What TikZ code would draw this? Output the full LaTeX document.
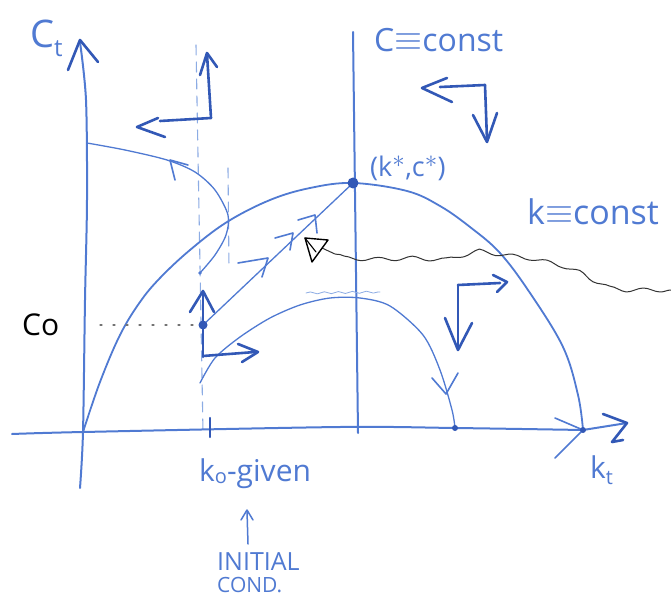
\documentclass[tikz,border=0pt]{standalone}
\usepackage{fontspec}
\setmainfont{Open Sans}
\usetikzlibrary{decorations.pathmorphing}
\definecolor{pen}{RGB}{80,122,210}
\definecolor{pendark}{RGB}{50,88,182}
\definecolor{penlight}{RGB}{140,172,228}
\newcommand{\eqv}{\raisebox{1pt}{\scalebox{1.45}{$\equiv$}}}
\begin{document}
\begin{tikzpicture}[x=1pt,y=-1pt,
  line cap=round, line join=round,
  ax/.style={pen, line width=2pt},
  curve/.style={pen, line width=1.8pt},
  traj/.style={pen, line width=1.3pt},
  phase/.style={pendark, line width=2.6pt},
  head/.style={pen, line width=1.6pt},
  dashv/.style={penlight, line width=1.1pt, dash pattern=on 10pt off 7pt},
  lbl/.style={pen, inner sep=0pt},
]
\useasboundingbox (0,0) rectangle (671,601);
\fill[white] (0,0) rectangle (671,601);

% key points
\coordinate (O) at (83,432);
\coordinate (SS) at (353,183);
\coordinate (C0) at (203,325);
\coordinate (KR) at (583,430);
\coordinate (KM) at (455,428);

% dashed verticals at k0
\draw[dashv] (196,45) -- (203,432);
\draw[dashv] (228,168) -- (229,268);

% y axis
\draw[ax] plot[smooth] coordinates {(80,42) (86,100) (87,200) (85,300) (O) (80,488)};
\draw[phase] (68,70) -- (80,40) -- (98,62);

% x axis
\draw[ax] plot[smooth] coordinates {(12,434) (O) (340,427) (KM) (KR)} -- (627,423);
\draw[phase] (603,414) -- (627,423) -- (612,442) -- (623,440);
\draw[head] (555,418) -- (KR) -- (555,458);

% c = const vertical
\draw[ax] (353,32) -- (358,433);

% k = const hump
\draw[curve] plot[smooth, tension=0.6] coordinates {(O) (100,382) (120,335) (140,302) (160,278) (190,250) (227,222) (270,200) (310,188) (SS) (407,191) (440,206) (470,227) (500,253) (530,293) (563,347) (578,395) (KR)};

% saddle path
\draw[traj] (C0) -- (SS);
\draw[head] (238,263) -- (268,258) -- (262,277);
\draw[head] (275,238) -- (293,233) -- (290,250);
\draw[head] (298,220) -- (315,215) -- (317,233);

% upper divergent trajectory
\draw[traj] plot[smooth] coordinates {(200,273) (215,255) (226,235) (228,215) (215,190) (195,172) (167,160) (125,150) (87,143)};
\fill[pen] (200,273) circle (1.8pt);
\draw[head] (188,165) -- (170,160) -- (175,180);

% lower divergent trajectory
\draw[traj] plot[smooth] coordinates {(200,383) (215,358) (240,337) (270,318) (300,305) (330,298) (360,298) (390,306) (423,335) (440,370) (452,410) (KM)};
\draw[head] (432,378) -- (446,394) -- (458,373);
\draw[penlight, line width=0.8pt, decorate, decoration={snake, amplitude=1pt, segment length=14pt}] (306,293) -- (380,292);

% dots
\fill[pendark] (SS) circle (5.5pt);
\fill[pendark] (C0) circle (4.5pt);
\fill[pendark] (KM) circle (3pt);
\fill[pendark] (KR) circle (3pt);

% k0 tick and c0 dotted guide
\draw[pendark, line width=2.2pt] (210,418) -- (210,437);
\draw[black!55, line width=1.2pt, dash pattern=on 2pt off 11pt] (100,325) -- (195,325);

% phase arrows at c0
\draw[phase] (203,357) -- (203,292);
\draw[phase] (190,312) -- (203,291) -- (214,312);
\draw[phase] (203,356) -- (255,352);
\draw[phase] (238,344) -- (258,352) -- (242,362);

% upper-left phase arrows
\draw[phase] (211,118) -- (207,54);
\draw[phase] (200,75) -- (207,53) -- (217,67);
\draw[phase] (211,118) -- (160,121);
\draw[phase] (158,118) -- (137,127) -- (165,137);

% upper-right phase arrows
\draw[phase] (485,85) -- (440,87);
\draw[phase] (447,78) -- (422,88) -- (452,102);
\draw[phase] (485,85) -- (487,140);
\draw[phase] (473,115) -- (487,142) -- (497,113);

% lower-right phase arrows
\draw[phase] (458,285) -- (500,283);
\draw[phase] (493,275) -- (507,282) -- (497,292);
\draw[phase] (458,285) -- (458,348);
\draw[phase] (445,318) -- (458,350) -- (472,323);

% black wavy pointer
\coordinate (wend) at (671,290);
\coordinate (wtip) at (322,248);
\draw[black!80, line width=1pt, decorate, decoration={snake, amplitude=2pt, segment length=34pt}] (wend) -- (640,290) -- (613,287) -- (590,275) -- (570,267) -- (540,260) -- (513,257) -- (487,253) -- (470,257) -- (453,262) -- (413,260) -- (385,261) -- (357,260) -- (335,254) -- (wtip);
\draw[black, line width=1.4pt] (305,238) -- (328,240) -- (312,262) -- cycle;
\draw[black, line width=1.1pt] (305,238) -- (316,252);

% initial condition arrow
\draw[pen, line width=1.5pt] (248,544) -- (247,511);
\draw[pen, line width=1.5pt] (241,520) -- (247,510) -- (253,520);

% labels
\node[lbl, anchor=west] (lct) at (30,38) {\fontsize{38}{38}\selectfont C\raisebox{-9pt}{\fontsize{24}{24}\selectfont t}};
\node[lbl, anchor=west] (lcc) at (374,40) {\fontsize{32}{32}\selectfont C\eqv const};
\node[lbl, anchor=west] (lss) at (370,168) {\fontsize{27}{27}\selectfont (k$^{\textstyle *}$,c$^{\textstyle *}$)};
\node[lbl, anchor=west] (lkc) at (527,212) {\fontsize{34}{34}\selectfont k\eqv const};
\node[inner sep=0pt, anchor=west, black] (lc0) at (22,325) {\fontsize{30}{30}\selectfont Co};
\node[lbl, anchor=west] (lkt) at (590,470) {\fontsize{30}{30}\selectfont k\raisebox{-6pt}{\fontsize{20}{20}\selectfont t}};
\node[lbl, anchor=west] (lk0) at (199,474) {\fontsize{30}{30}\selectfont k\raisebox{-2pt}{\fontsize{20}{20}\selectfont o}-given};
\node[lbl, anchor=west] (lin) at (217,562) {\fontsize{25}{25}\selectfont INITIAL};
\node[lbl, anchor=west] (lcd) at (217,585) {\fontsize{21}{21}\selectfont COND.};
\end{tikzpicture}
\end{document}
